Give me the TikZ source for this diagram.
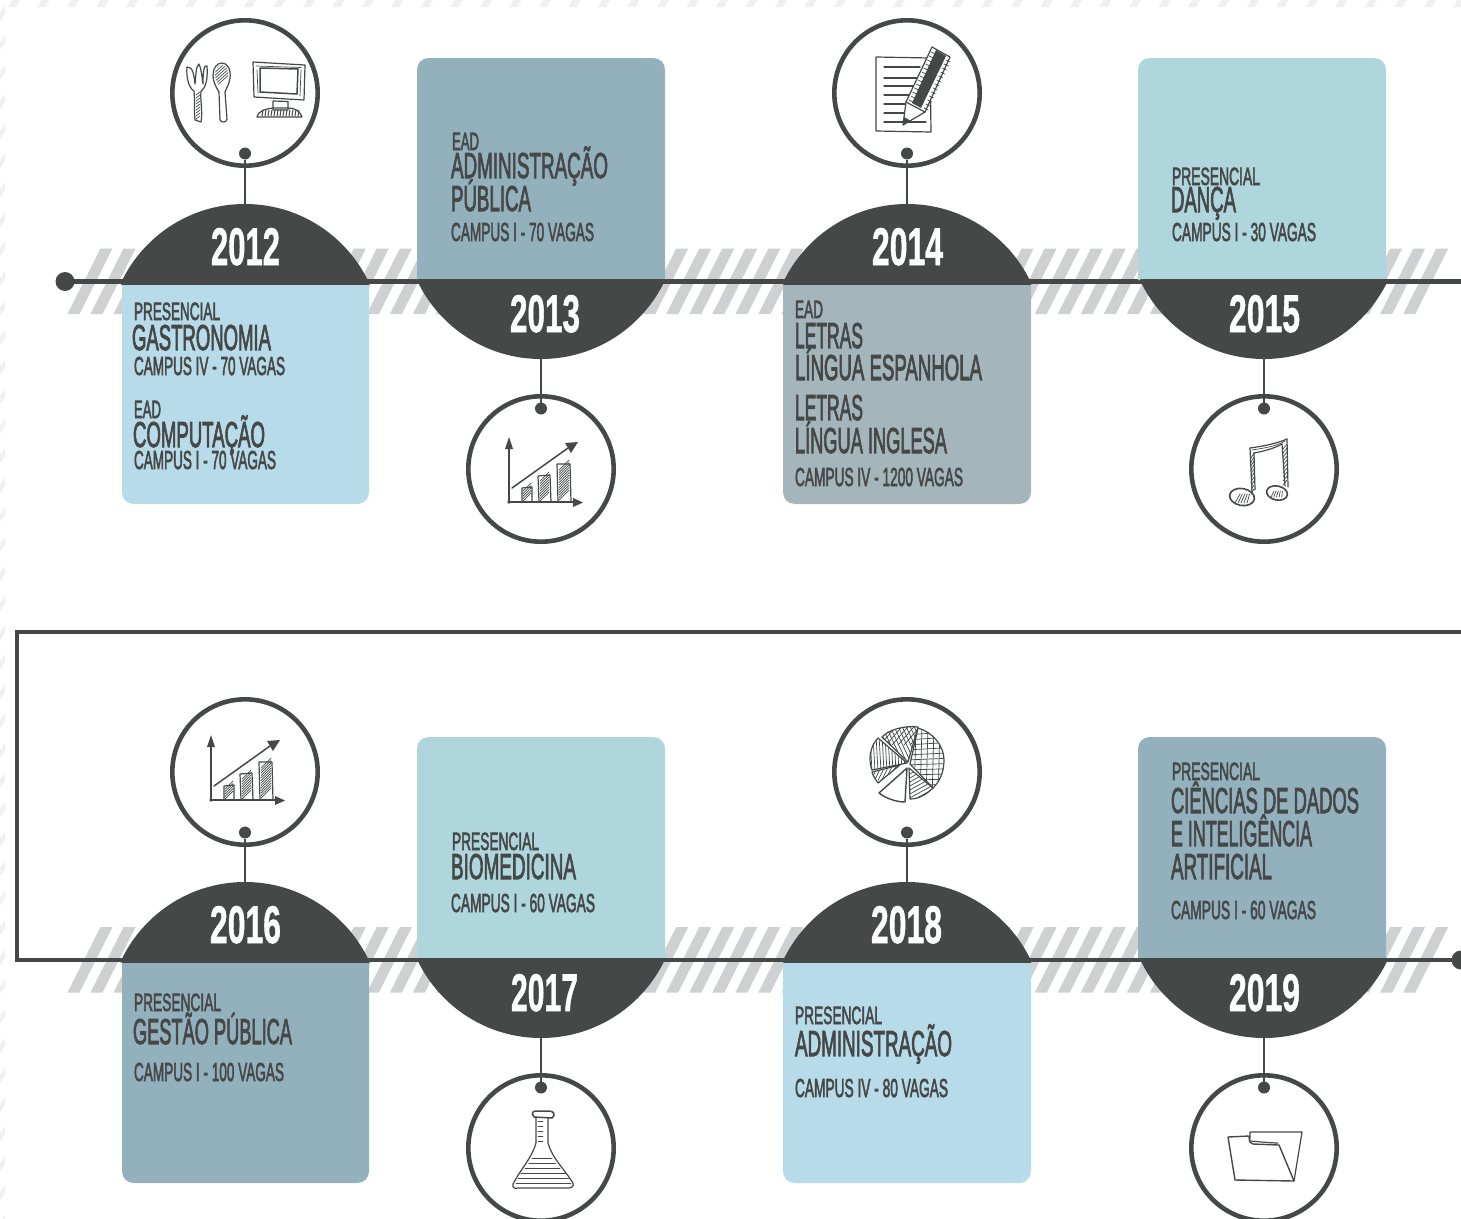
\documentclass[tikz,border=0pt]{standalone}
\usepackage{fontspec}
\usepackage{graphicx}
\setmainfont{Liberation Sans}
\newfontfamily\labfont[FakeBold=3]{Liberation Sans}
\newfontfamily\yearfont[BoldFeatures={FakeBold=1.2}]{Liberation Sans}
\definecolor{ink}{HTML}{464848}
\definecolor{bluea}{HTML}{B7DBE8}
\definecolor{blueb}{HTML}{93B1BD}
\definecolor{bluec}{HTML}{A4B6BB}
\definecolor{blued}{HTML}{AFD5DD}
\definecolor{hatchc}{HTML}{CFD0D1}
\definecolor{edgec}{HTML}{F0F0F0}
\newcount\labn
\newsavebox{\fitbox}
\newcommand{\fitted}[3]{% width, font commands, text
  \sbox{\fitbox}{#2#3}%
  \pgfmathsetmacro{\fitr}{#1/\the\wd\fitbox}%
  \scalebox{\fitr}[1]{\usebox{\fitbox}}%
}
% x, baseline, right x, font size, text
\newcommand{\lab}[5]{%
  \global\advance\labn by 1
  \node[inner sep=0pt,outer sep=0pt,anchor=base west,text=ink] (t\the\labn) at (#1,#2) {\fitted{(#3-#1)}{\labfont\fontsize{#4}{#4}\selectfont}{#5}};%
}
\newcommand{\yearlab}[4]{%
  \global\advance\labn by 1
  \node[inner sep=0pt,outer sep=0pt,anchor=base west,text=white] (t\the\labn) at (#1,#2) {\fitted{(#3-#1)}{\yearfont\bfseries\fontsize{53}{53}\selectfont}{#4}};%
}
% box with the two far corners rounded: x1,x2,yNear,yFar,colour
\newcommand{\panel}[5]{%
  \pgfmathsetmacro{\ysgn}{(#4>#3)?1:-1}%
  \pgfmathsetmacro{\ya}{#4-12*\ysgn}\pgfmathsetmacro{\yb}{#4-5*\ysgn}%
  \fill[#5] (#1,#3) -- (#1,\ya) .. controls (#1,\yb) and (#1+5,#4) .. (#1+12,#4)
     -- (#2-12,#4) .. controls (#2-5,#4) and (#2,\yb) .. (#2,\ya) -- (#2,#3) -- cycle;%
}
% dome on a line: cx, liney, direction (1 up, -1 down), tag
\newcommand{\dome}[4]{%
  \begin{scope}
    \clip (#1-123.7,#2+#3*2) rectangle (#1+124,#2-#3*90);
    \fill[ink] (#1,#2+#3*59) circle[radius=137];
  \end{scope}
  \coordinate (dome#4) at (#1,#2-#3*77);%
}
% medallion: cx, cy, dotdir (1: dot at bottom, -1: dot at top), tag
\newcommand{\medal}[4]{%
  \node[medalring] (c#4) at (#1,#2) {};
  \node[medaldot] (d#4) at (#1,#2+#3*60.5) {};
  \draw[conn] (dome#4) -- (d#4);%
}
\newcommand{\hatchband}[1]{%
  \foreach \k in {0,...,58} {
    \fill[hatchc] (67.5+23.03*\k,#1+32.5) -- (100.5+23.03*\k,#1-33) -- (112.5+23.03*\k,#1-33) -- (79.5+23.03*\k,#1+32.5) -- cycle;
  }%
}
\newcommand{\chart}[2]{%
  \begin{scope}[shift={(#1,#2)},ic]
    \draw[line width=1.7pt] (509,503) -- (509,446);
    \fill[ink] (505,449) -- (509,437) -- (513,449) -- cycle;
    \draw[line width=1.7pt] (508,502) -- (574,502);
    \fill[ink] (573,498) -- (583,502.5) -- (573,507) -- cycle;
    \draw[line width=1.5pt] (512,488) -- (568,448);
    \fill[ink] (565,443) -- (578,442) -- (571,453) -- cycle;
    \draw (522,488) -- (532,487) -- (532,502) -- (522,502) -- cycle;
    \draw (538,476) -- (550,475) -- (551,502) -- (539,502) -- cycle;
    \draw (557,464) -- (570,464) -- (571,502) -- (558,502) -- cycle;
    \foreach \i in {0,2.5,...,10} \draw[ict] (523,501-\i) -- (531,493-\i);
    \foreach \i in {0,2.5,...,20} \draw[ict] (540,501-\i) -- (549,492-\i);
    \foreach \i in {0,2.5,...,30} \draw[ict] (559,500-\i) -- (569,490-\i);
  \end{scope}%
}
\tikzset{
  medalring/.style={circle,draw=ink,line width=4.6pt,fill=white,minimum size=145.4pt,inner sep=0pt},
  medaldot/.style={circle,fill=ink,minimum size=12pt,inner sep=0pt,outer sep=0pt},
  enddot/.style={circle,fill=ink,minimum size=19pt,inner sep=0pt,outer sep=0pt},
  conn/.style={draw=ink,line width=2.4pt},
  mainline/.style={draw=ink,line width=4.4pt},
  ic/.style={draw=ink,line width=1.2pt,line join=round,line cap=round},
  ict/.style={draw=ink,line width=.7pt,line cap=round}
}
\begin{document}
\begin{tikzpicture}[x=1pt,y=-1pt]
\useasboundingbox (0,0) rectangle (1461,1218);
\fill[white] (0,0) rectangle (1461,1218);
% page edge stripes
\foreach \k in {0,...,49} {
  \fill[edgec] (8+29.5*\k,7) -- (12+29.5*\k,0) -- (20+29.5*\k,0) -- (16+29.5*\k,7) -- cycle;
}
\foreach \k in {0,...,41} {
  \fill[edgec] (0,20.5+29.5*\k) -- (0,12.5+29.5*\k) -- (5,5.5+29.5*\k) -- (5,13.5+29.5*\k) -- cycle;
}
% hatching bands
\hatchband{281.5}
\hatchband{960}
% main lines
\node[enddot] (start) at (65,281.5) {};
\coordinate (rowend) at (1461,281.5);
\draw[mainline] (start.center) -- (rowend);
\coordinate (ra) at (1465,632);
\coordinate (rb) at (17,632);
\coordinate (rc) at (17,960);
\node[enddot] (finish) at (1461,960) {};
\draw[mainline] (ra) -- (rb) -- (rc) -- (finish.center);
% panels
\panel{122}{369}{284}{504}{bluea}
\panel{417}{665}{280}{58}{blueb}
\panel{783}{1031}{284}{504}{bluec}
\panel{1138}{1386}{280}{58}{blued}
\panel{122}{369}{962}{1183}{blueb}
\panel{417}{665}{958}{737}{blued}
\panel{783}{1031}{962}{1183}{bluea}
\panel{1138}{1386}{958}{737}{blueb}
% domes
\dome{245}{282}{1}{2012}
\dome{541}{281}{-1}{2013}
\dome{907}{282}{1}{2014}
\dome{1264}{281}{-1}{2015}
\dome{245}{960}{1}{2016}
\dome{541}{960}{-1}{2017}
\dome{907}{960}{1}{2018}
\dome{1264}{960}{-1}{2019}
% medallions
\medal{245}{93}{1}{2012}
\medal{541}{469}{-1}{2013}
\medal{907}{93}{1}{2014}
\medal{1264}{469}{-1}{2015}
\medal{245}{772}{1}{2016}
\medal{541}{1148}{-1}{2017}
\medal{907}{772}{1}{2018}
\medal{1264}{1148}{-1}{2019}
% years
\yearlab{211}{265}{280}{2012}
\yearlab{510}{332}{580}{2013}
\yearlab{872}{265}{943}{2014}
\yearlab{1229}{332}{1300}{2015}
\yearlab{210}{943}{281}{2016}
\yearlab{511}{1011}{578}{2017}
\yearlab{871}{943}{942}{2018}
\yearlab{1229}{1011}{1300}{2019}
% texts 2012
\lab{134}{320}{220}{25}{PRESENCIAL}
\lab{132}{350}{271}{36}{GASTRONOMIA}
\lab{134}{375}{285}{26}{CAMPUS IV - 70 VAGAS}
\lab{134}{418}{161}{25}{EAD}
\lab{133}{447}{265}{36}{COMPUTAÇÃO}
\lab{134}{469}{276}{26}{CAMPUS I - 70 VAGAS}
% 2013
\lab{452}{150}{479}{25}{EAD}
\lab{451}{178}{608}{36}{ADMINISTRAÇÃO}
\lab{451}{211}{531}{36}{PÚBLICA}
\lab{451}{241}{594}{26}{CAMPUS I - 70 VAGAS}
% 2014
\lab{795}{318}{823}{25}{EAD}
\lab{795}{348}{863}{36}{LETRAS}
\lab{795}{380}{982}{36}{LÍNGUA ESPANHOLA}
\lab{795}{420}{863}{36}{LETRAS}
\lab{795}{453}{947}{36}{LÍNGUA INGLESA}
\lab{795}{486}{963}{26}{CAMPUS IV - 1200 VAGAS}
% 2015
\lab{1172}{185}{1260}{25}{PRESENCIAL}
\lab{1171}{212}{1236}{36}{DANÇA}
\lab{1172}{241}{1316}{26}{CAMPUS I - 30 VAGAS}
% 2016
\lab{134}{1011}{221}{25}{PRESENCIAL}
\lab{133}{1044}{292}{36}{GESTÃO PÚBLICA}
\lab{134}{1081}{284}{26}{CAMPUS I - 100 VAGAS}
% 2017
\lab{452}{850}{539}{25}{PRESENCIAL}
\lab{451}{879}{576}{36}{BIOMEDICINA}
\lab{451}{912}{595}{26}{CAMPUS I - 60 VAGAS}
% 2018
\lab{795}{1024}{882}{25}{PRESENCIAL}
\lab{795}{1056}{952}{36}{ADMINISTRAÇÃO}
\lab{795}{1097}{948}{26}{CAMPUS IV - 80 VAGAS}
% 2019
\lab{1172}{780}{1260}{25}{PRESENCIAL}
\lab{1171}{813}{1359}{36}{CIÊNCIAS DE DADOS}
\lab{1171}{846}{1312}{36}{E INTELIGÊNCIA}
\lab{1171}{879}{1272}{36}{ARTIFICIAL}
\lab{1171}{919}{1316}{26}{CAMPUS I - 60 VAGAS}
% icon: fork, spoon, monitor
\draw[ic] (187,67) .. controls (186,78) and (189,88) .. (194,91) .. controls (195,100) and (194,112) .. (195,120) -- (201,122) .. controls (203,112) and (200,100) .. (201,91) .. controls (206,88) and (208,78) .. (207,66) .. controls (204,64) and (203,72) .. (203,84) .. controls (202,76) and (201,68) .. (199,64) .. controls (196,66) and (196,74) .. (195,84) .. controls (194,76) and (193,66) .. (187,67) -- cycle;
\foreach \i in {0,3,...,24} \draw[ict] (196,95+\i) -- (200,92+\i);
\draw[ic] (222,63) .. controls (228,63) and (231,70) .. (230,78) .. controls (229,85) and (226,89) .. (225,92) -- (227,119) .. controls (226,123) and (222,123) .. (220,120) -- (219,92) .. controls (216,87) and (213,82) .. (213,75) .. controls (213,68) and (217,63) .. (222,63) -- cycle;
\begin{scope}
  \clip (222,65) .. controls (227,65) and (229,70) .. (228,78) .. controls (227,84) and (225,87) .. (223,90) .. controls (218,85) and (215,80) .. (215,75) .. controls (215,69) and (218,65) .. (222,65) -- cycle;
  \foreach \i in {0,3,...,27} \draw[ict] (212,90-\i) -- (232,72-\i);
\end{scope}
\draw[ic] (253,62) -- (305,65) -- (304,100) -- (254,97) -- cycle;
\draw[ic,line width=1.5pt] (260,68) -- (298,69) -- (297,94) -- (260,92) -- cycle;
\draw[ict] (256,66) -- (301,67.5);
\draw[ict] (257,70) -- (258,93);
\draw[ict] (301,70) -- (300,96);
\draw[ic] (273,101) -- (288,101.5) -- (288,110) -- (273,110) -- cycle;
\draw[ic] (257,117) .. controls (259,110) and (266,109) .. (273,108) -- (288,108) .. controls (295,108) and (300,111) .. (302,117) -- cycle;
\foreach \i in {0,3,...,36} \draw[ict,line width=1pt] (262+\i,116) -- (263+\i,110);
% icon: charts
\chart{0}{0}
\chart{-298}{298}
% icon: paper and pencil
\draw[ic] (876,57) -- (930,58) -- (931,132) -- (876,131) -- cycle;
\foreach \yy/\xx in {67/920,78/918,86/916,95/912,104/908,113/922,122/926} \draw[ic,line width=1.3pt] (884,\yy) -- (\xx,\yy);
\draw[ic,fill=white] (903,125) -- (906,102) -- (932,47) -- (950,57) -- (925,112) -- cycle;
\fill[ink] (912,103) -- (936,50) -- (946,56) -- (921,108) -- cycle;
\draw[ic] (906,102) -- (925,112);
\fill[ink] (903,125) -- (904,117) -- (911,121) -- cycle;
\foreach \i in {0,4,...,48} {\draw[ict] (909+\i*.46,100-\i) -- (913+\i*.46,102-\i);\draw[ict] (924+\i*.46,108-\i) -- (928+\i*.46,110-\i);}
% icon: music notes
\draw[ic,line width=1.6pt,rotate around={-10:(1242,497)}] (1242,497) ellipse[x radius=12.5,y radius=8.5];
\draw[ic,line width=1.6pt,rotate around={-12:(1277,493)}] (1277,493) ellipse[x radius=10.5,y radius=7];
\draw[ic] (1250,448) -- (1252,492);
\draw[ic] (1254,453) -- (1255,490);
\draw[ic] (1282,444) -- (1285,486);
\draw[ic] (1287,439) -- (1288,487);
\draw[ic] (1250,448) .. controls (1265,446) and (1278,443) .. (1287,439);
\draw[ic] (1254,453) .. controls (1265,451) and (1275,448) .. (1282,444);
\draw[ict] (1252,450) .. controls (1265,448) and (1277,446) .. (1285,441);
\foreach \i in {0,4,...,36} {\draw[ict] (1251,\i+458) -- (1254,\i+453);\draw[ict] (1283,\i+449) -- (1287,\i+444);}
\foreach \i in {0,3,...,12} {\draw[ict] (1235+\i,503) -- (1240+\i*.8,494);\draw[ict] (1271+\i*.9,497) -- (1274+\i*.7,491);}
% icon: pie
\begin{scope}
  \clip (910,764) -- (918,728) .. controls (932,732) and (944,745) .. (944,760) .. controls (944,772) and (940,781) .. (933,788) -- cycle;
  \foreach \i in {0,5,...,60} \draw[ict] (905,735+\i) -- (948,732+\i*1.05);
  \foreach \i in {0,6,...,36} \draw[ict] (910+\i,725) -- (908+\i,800);
\end{scope}
\draw[ic] (910,764) -- (918,728) .. controls (932,732) and (944,745) .. (944,760) .. controls (944,772) and (940,781) .. (933,788) -- cycle;
\begin{scope}
  \clip (908,762) -- (882,737) .. controls (888,730) and (905,725) .. (918,727) -- cycle;
  \foreach \i in {0,4,...,48} \draw[ict] (876+\i,722) -- (896+\i,765);
  \foreach \i in {0,6,...,36} \draw[ict] (880+\i,745) -- (900+\i,722);
\end{scope}
\draw[ic] (908,762) -- (882,737) .. controls (888,730) and (905,725) .. (918,727) -- cycle;
\begin{scope}
  \clip (907,763) -- (878,738) .. controls (870,746) and (868,760) .. (872,770) -- cycle;
  \foreach \i in {0,3,...,36} \draw[ict] (870+\i,735) -- (872+\i,772);
\end{scope}
\draw[ic] (907,763) -- (878,738) .. controls (870,746) and (868,760) .. (872,770) -- cycle;
\begin{scope}
  \clip (900,765) -- (872,772) .. controls (873,776) and (876,780) .. (878,783) -- cycle;
  \foreach \i in {0,4,...,28} \draw[ict] (870+\i,782-\i*.2) -- (878+\i,766-\i*.2);
\end{scope}
\draw[ic] (900,765) -- (872,772) .. controls (873,776) and (876,780) .. (878,783) -- cycle;
\draw[ic,line width=1.4pt] (907,768) -- (879,793) .. controls (885,798) and (896,802) .. (905,802) -- cycle;
\begin{scope}
  \clip (909,768) -- (933,788) .. controls (926,795) and (918,799) .. (910,799) -- cycle;
  \foreach \i in {0,4,...,40} \draw[ict] (908,775+\i) -- (935,760+\i);
\end{scope}
\draw[ic] (909,768) -- (933,788) .. controls (926,795) and (918,799) .. (910,799) -- cycle;
% icon: flask
\draw[ic] (536,1118) -- (536,1143) .. controls (532,1158) and (520,1170) .. (513,1184) .. controls (512,1188) and (515,1189) .. (518,1188) -- (568,1188) .. controls (572,1188) and (574,1186) .. (573,1183) .. controls (565,1170) and (552,1158) .. (548,1143) -- (548,1118);
\draw[ic,line width=1.5pt] (534,1117) .. controls (530,1112) and (534,1111) .. (537,1111) -- (549,1111) .. controls (554,1111) and (556,1115) .. (552,1118) -- cycle;
\foreach \i in {0,5,...,20} \draw[ict] (538,1121+\i) -- (543,1121+\i);
\foreach \yy/\xa/\xb in {1158/532/552,1163/529/556,1168/525/560,1173/521/566,1178/518/569,1183/516/571} \draw[ict,line width=.9pt] (\xa,\yy) -- (\xb,\yy);
% icon: folder
\draw[ic] (1250,1139) -- (1250,1132) -- (1302,1132) -- (1294,1181);
\draw[ic,line width=1.4pt] (1228,1137) -- (1249,1136) .. controls (1249,1142) and (1251,1144) .. (1253,1144) -- (1279,1145) -- (1294,1181) -- (1235,1180) -- cycle;
\draw[ic] (1250,1141) .. controls (1252,1141) and (1270,1143) .. (1278,1143);
\end{tikzpicture}
\end{document}
